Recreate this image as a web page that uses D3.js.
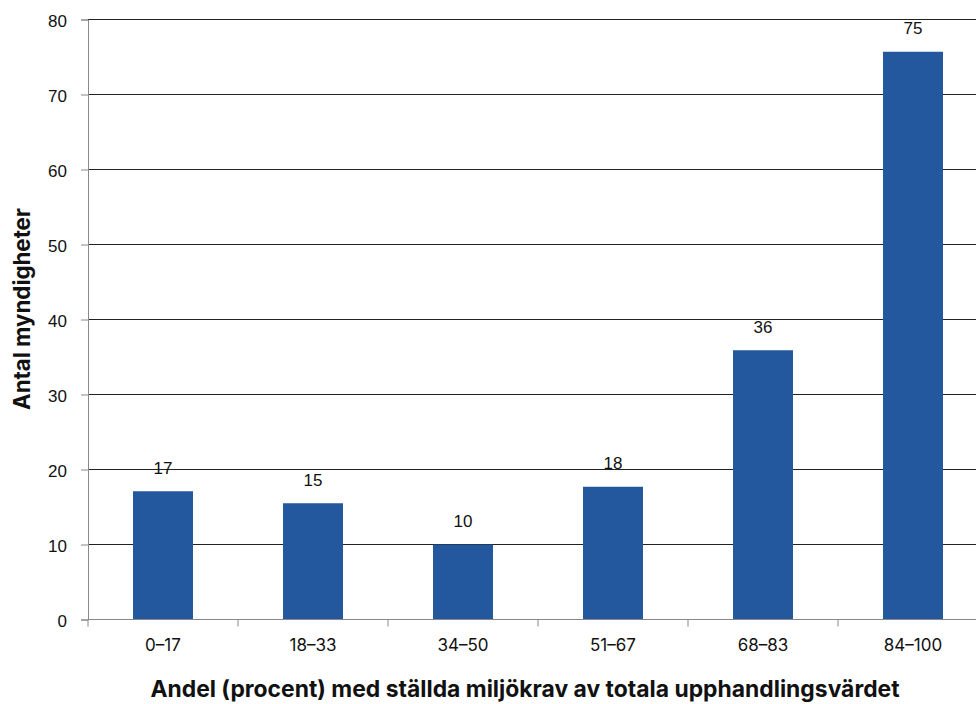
<!DOCTYPE html>
<html>
<head>
<meta charset="utf-8">
<script src="https://cdn.jsdelivr.net/npm/d3@7"></script>
<style>
  html, body { margin: 0; padding: 0; background: #fff; }
  svg { display: block; }
</style>
</head>
<body>
<svg id="chart" width="976" height="704"></svg>
<script>
const categories = ["0–17", "18–33", "34–50", "51–67", "68–83", "84–100"];
const values = [17.1, 15.5, 10.0, 17.7, 35.9, 75.7];
const valueLabels = ["17", "15", "10", "18", "36", "75"];
const yTicks = [0, 10, 20, 30, 40, 50, 60, 70, 80];
const xTitle = "Andel (procent) med ställda miljökrav av totala upphandlingsvärdet";
const yTitle = "Antal myndigheter";

const svg = d3.select("#chart");
const plotLeft = 88, plotRight = 988, plotTop = 19.5, plotBottom = 619.5;

const x = d3.scaleBand().domain(categories).range([plotLeft, plotRight]).paddingInner(0.6).paddingOuter(0.3);
const xb = d3.scaleBand().domain(categories).range([plotLeft, plotRight]);
const y = d3.scaleLinear().domain([0, 80]).range([plotBottom, plotTop]);

const numFont = "'Liberation Sans', Arial, sans-serif";
const txtFont = "Inter, Roboto, 'Noto Sans', sans-serif";

// gridlines
svg.append("g").selectAll("line").data(yTicks.filter(d => d > 0)).join("line")
  .attr("x1", plotLeft).attr("x2", 976)
  .attr("y1", d => y(d)).attr("y2", d => y(d))
  .attr("stroke", "#222").attr("stroke-width", 1);

// bars
svg.append("g").selectAll("rect").data(values).join("rect")
  .attr("x", (d, i) => x(categories[i]))
  .attr("width", x.bandwidth())
  .attr("y", d => y(d))
  .attr("height", d => y(0) - y(d))
  .attr("fill", "#23579e");

// value labels
svg.append("g").selectAll("text").data(values).join("text")
  .attr("x", (d, i) => x(categories[i]) + x.bandwidth() / 2)
  .attr("y", d => y(d) - 17.5)
  .attr("text-anchor", "middle")
  .attr("font-family", numFont).attr("font-size", 17).attr("fill", "#111")
  .text((d, i) => valueLabels[i]);

// y axis
const yAxis = d3.axisLeft(y).tickValues(yTicks).tickSize(7).tickPadding(14).tickFormat(d3.format("d"));
const gy = svg.append("g").attr("transform", `translate(${plotLeft},0)`).call(yAxis);
gy.select(".domain").attr("stroke", "#888");
gy.selectAll(".tick line").attr("stroke", "#888");
gy.selectAll(".tick text").attr("font-family", numFont).attr("font-size", 17).attr("fill", "#111").attr("dy", "0.42em");

// x axis
const gx = svg.append("g").attr("transform", `translate(0,${plotBottom})`);
gx.append("line").attr("x1", plotLeft).attr("x2", 976).attr("y1", 0).attr("y2", 0).attr("stroke", "#888");
gx.selectAll(".tk").data(categories).join("line").attr("class", "tk")
  .attr("x1", d => xb(d)).attr("x2", d => xb(d)).attr("y1", 0).attr("y2", 7).attr("stroke", "#888");
gx.selectAll("text").data(categories).join("text")
  .attr("x", d => xb(d) + xb.bandwidth() / 2)
  .attr("y", 31.5)
  .attr("text-anchor", "middle")
  .attr("font-family", txtFont).attr("font-size", 17).attr("fill", "#111")
  .text(d => d);

// fit a text element's font size so it spans the target width
function fitWidth(sel, target) {
  const base = 20;
  sel.attr("font-size", base);
  const w = sel.node().getComputedTextLength();
  sel.attr("font-size", base * target / w);
}

// titles
const xt = svg.append("text")
  .attr("x", 525).attr("y", 697)
  .attr("text-anchor", "middle")
  .attr("font-family", txtFont).attr("font-weight", "bold").attr("fill", "#111")
  .text(xTitle);
fitWidth(xt, 750);

const yt = svg.append("text")
  .attr("transform", "translate(30,309) rotate(-90)")
  .attr("text-anchor", "middle")
  .attr("font-family", txtFont).attr("font-weight", "bold").attr("fill", "#111")
  .text(yTitle);
fitWidth(yt, 202);
</script>
</body>
</html>
